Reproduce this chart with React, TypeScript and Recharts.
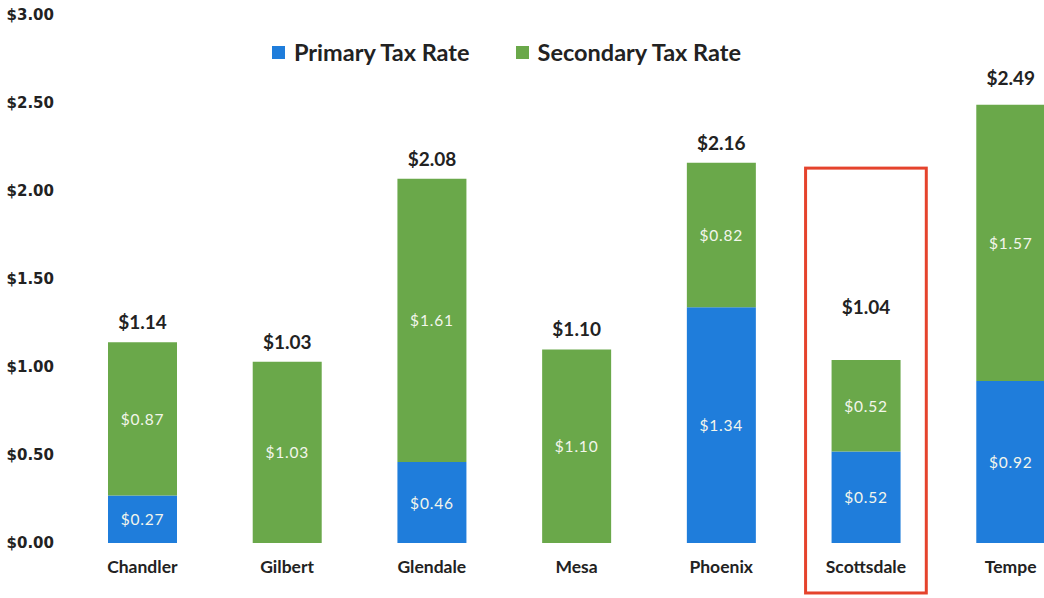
import { BarChart, Bar, XAxis, YAxis, LabelList, Legend, ReferenceArea } from 'recharts';

const cities = ['Chandler', 'Gilbert', 'Glendale', 'Mesa', 'Phoenix', 'Scottsdale', 'Tempe'];
const primaryRates = [0.27, 0, 0.46, 0, 1.34, 0.52, 0.92];
const secondaryRates = [0.87, 1.03, 1.61, 1.1, 0.82, 0.52, 1.57];
const totalRates = [1.14, 1.03, 2.08, 1.1, 2.16, 1.04, 2.49];
const yTicks = [0, 0.5, 1, 1.5, 2, 2.5, 3];

const BLUE = '#1f7ddb';
const GREEN = '#6aa84a';
const FONT = 'Lato, "Open Sans", sans-serif';

const data = cities.map((city, i) => ({
  city,
  primary: primaryRates[i],
  secondary: secondaryRates[i],
  total: totalRates[i],
}));

const money = (v: number) => `$${v.toFixed(2)}`;

function InnerLabel(props: any) {
  const { value } = props;
  const vb = props.viewBox ?? props;
  if (!value) return null;
  return (
    <text
      x={vb.x + vb.width / 2}
      y={vb.y + vb.height / 2}
      textAnchor="middle"
      dominantBaseline="central"
      fill="#f3f6ec"
      fontFamily={FONT}
      fontSize={15.5}
      letterSpacing={0.8}
    >
      {money(value)}
    </text>
  );
}

function TotalLabel(props: any) {
  const { value, index } = props;
  const vb = props.viewBox ?? props;
  // a couple of totals sit higher in the original
  const city = cities[index];
  const lift = city === 'Scottsdale' ? 46 : city === 'Tempe' ? 20 : 13;
  return (
    <text
      x={vb.x + vb.width / 2}
      y={vb.y - lift}
      textAnchor="middle"
      fill="#222"
      fontFamily={FONT}
      fontWeight={700}
      fontSize={19}
    >
      {money(value)}
    </text>
  );
}

function TaxLegend() {
  const item = (color: string, label: string, gap: number) => (
    <span style={{ display: 'inline-flex', alignItems: 'center', marginRight: gap }}>
      <span style={{ width: 13, height: 13, background: color, marginRight: 9 }} />
      <span style={{ fontFamily: FONT, fontWeight: 700, fontSize: 23.5, color: '#222' }}>{label}</span>
    </span>
  );
  return (
    <div style={{ display: 'flex', whiteSpace: 'nowrap' }}>
      {item(BLUE, 'Primary Tax Rate', 46)}
      {item(GREEN, 'Secondary Tax Rate', 0)}
    </div>
  );
}

function HighlightBox(props: any) {
  const { x, y, width, height } = props;
  return (
    <rect x={x + 12} y={y} width={width - 24} height={height} fill="none" stroke="#e5432c" strokeWidth={3} />
  );
}

export default function App() {
  return (
    <div style={{ position: 'absolute', left: 0, top: 0, width: 1044, height: 598, overflow: 'hidden', background: '#fff' }}>
      <BarChart width={1083} height={598} data={data} margin={{ top: 15, right: 0, bottom: 0, left: 0 }} barSize={69}>
        <XAxis
          dataKey="city"
          axisLine={false}
          tickLine={false}
          tickSize={0}
          tickMargin={18}
          height={55}
          interval={0}
          tick={{ fill: '#222', fontFamily: FONT, fontWeight: 700, fontSize: 17.5 }}
        />
        <YAxis
          domain={[0, 3]}
          ticks={yTicks}
          width={70}
          axisLine={false}
          tickLine={false}
          tickSize={0}
          tickMargin={16}
          tickFormatter={money}
          tick={{ fill: '#222', fontFamily: '"DejaVu Sans", sans-serif', fontWeight: 700, fontSize: 15 }}
        />
        <Legend
          layout="vertical"
          verticalAlign="middle"
          align="center"
          content={<TaxLegend />}
          wrapperStyle={{ position: 'absolute', top: 38, left: 272, width: 560 }}
        />
        <ReferenceArea
          x1="Scottsdale"
          x2="Scottsdale"
          y1={-0.284}
          y2={2.13}
          ifOverflow="visible"
          shape={<HighlightBox />}
        />
        <Bar dataKey="primary" stackId="rate" fill={BLUE} isAnimationActive={false}>
          <LabelList dataKey="primary" content={<InnerLabel />} />
        </Bar>
        <Bar dataKey="secondary" stackId="rate" fill={GREEN} isAnimationActive={false}>
          <LabelList dataKey="secondary" content={<InnerLabel />} />
          <LabelList dataKey="total" content={<TotalLabel />} />
        </Bar>
      </BarChart>
    </div>
  );
}
